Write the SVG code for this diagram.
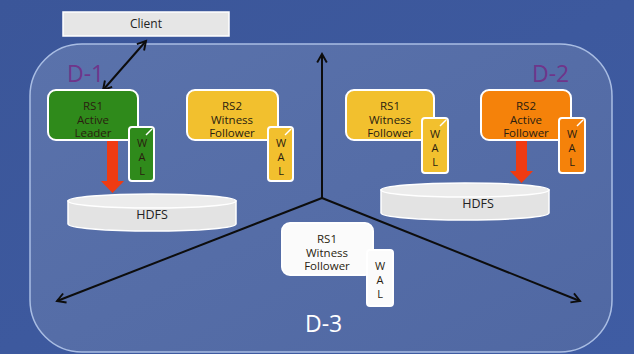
<svg xmlns="http://www.w3.org/2000/svg" width="634" height="354" viewBox="0 0 634 354">
  <defs>
    <linearGradient id="bg" x1="0" y1="0" x2="1" y2="1">
      <stop offset="0" stop-color="#3b5699"/>
      <stop offset="1" stop-color="#3f5ca3"/>
    </linearGradient>
    <linearGradient id="panel" x1="0" y1="0" x2="1" y2="1">
      <stop offset="0" stop-color="#5a72ab"/>
      <stop offset="1" stop-color="#5068a3"/>
    </linearGradient>
    <marker id="ah" viewBox="0 0 10 10" refX="8" refY="5" markerWidth="6" markerHeight="6" orient="auto-start-reverse">
      <path d="M1,1 L8,5 L1,9" fill="none" stroke="#0d0d0d" stroke-width="1.6"/>
    </marker>
    <g id="cyl">
      <path d="M0,8 L0,31 A84,7 0 0 0 168,31 L168,8 Z" class="disk"/>
      <ellipse cx="84" cy="8" rx="84" ry="7" class="disktop"/>
    </g>
  </defs>
  <style>
    text { font-family: "Open Sans", "Liberation Sans", sans-serif; }
    .box { stroke: #ffffff; stroke-width: 2; }
    .lbl { font-size: 11.5px; fill: #2a1d10; text-anchor: middle; }
    .wal { font-size: 11px; fill: #2a1d10; text-anchor: middle; }
    .disk { fill: #e3e3e3; stroke: #ffffff; stroke-width: 1.5; }
    .disktop { fill: #ececec; stroke: #ffffff; stroke-width: 1.5; }
    .dc { font-size: 23px; }
    .axis { stroke: #0d0d0d; stroke-width: 2; fill: none; }
    .green { fill: #2f8a1b; }
    .yellow { fill: #f2c02e; }
    .orange { fill: #f5820a; }
    .white { fill: #fbfbfb; }
    .push { fill: #ef3b12; }
    .shine { stroke: #ffffff; stroke-width: 1.5; fill: none; }
  </style>

  <rect x="0" y="0" width="634" height="354" fill="url(#bg)"/>

  <!-- data-center panel -->
  <rect x="30" y="44" width="582" height="308" rx="52" ry="52" fill="url(#panel)" stroke="#a9bde3" stroke-width="1.5"/>

  <!-- connectors -->
  <g id="connectors">
    <line class="axis" x1="322" y1="198" x2="322" y2="54" marker-end="url(#ah)"/>
    <line class="axis" x1="322" y1="198" x2="57" y2="301" marker-end="url(#ah)"/>
    <line class="axis" x1="322" y1="198" x2="580" y2="301" marker-end="url(#ah)"/>
    <line class="axis" x1="146" y1="41" x2="103" y2="90" marker-start="url(#ah)" marker-end="url(#ah)"/>
    <!-- WAL flush arrows into HDFS -->
    <path class="push" d="M107,140 H118 V181 H124 L112.5,193 L101,181 H107 Z"/>
    <path class="push" d="M516,140 H527 V171 H533 L521.5,183 L510,171 H516 Z"/>
  </g>

  <!-- labels of the data centers -->
  <text class="dc" x="67" y="82" fill="#6f358a">D-1</text>
  <text class="dc" x="532" y="82" fill="#6f358a">D-2</text>
  <text class="dc" x="305" y="332" fill="#ffffff">D-3</text>

  <g id="client">
    <rect x="63" y="12" width="166" height="24" fill="#e6e6e6" stroke="#ffffff" stroke-width="1.5"/>
    <text x="146" y="28" font-size="12px" fill="#222" text-anchor="middle">Client</text>
  </g>

  <g id="hdfs-d1">
    <use href="#cyl" x="68" y="193"/>
    <text x="152" y="219" font-size="12.5px" fill="#222" text-anchor="middle">HDFS</text>
  </g>

  <g id="hdfs-d2">
    <use href="#cyl" x="381" y="182"/>
    <text x="478" y="208" font-size="12.5px" fill="#222" text-anchor="middle">HDFS</text>
  </g>

  <g id="rs1-d1">
    <rect class="box green" x="48" y="90" width="90" height="50" rx="8"/>
    <text class="lbl" x="93" y="110">RS1</text>
    <text class="lbl" x="93" y="123.5">Active</text>
    <text class="lbl" x="93" y="137">Leader</text>
    <rect class="box green" x="129" y="127" width="25" height="54" rx="3"/>
    <path class="shine" d="M146,135 L152,129"/>
    <text class="wal" x="142" y="147">W</text>
    <text class="wal" x="142" y="161">A</text>
    <text class="wal" x="142" y="175">L</text>
  </g>

  <g id="rs2-d1">
    <rect class="box yellow" x="187" y="90" width="91" height="50" rx="8"/>
    <text class="lbl" x="232" y="110">RS2</text>
    <text class="lbl" x="232" y="123.5">Witness</text>
    <text class="lbl" x="232" y="137">Follower</text>
    <rect class="box yellow" x="268" y="127" width="25" height="54" rx="3"/>
    <path class="shine" d="M285,135 L291,129"/>
    <text class="wal" x="281" y="147">W</text>
    <text class="wal" x="281" y="161">A</text>
    <text class="wal" x="281" y="175">L</text>
  </g>

  <g id="rs1-d2">
    <rect class="box yellow" x="346" y="90" width="88" height="50" rx="8"/>
    <text class="lbl" x="390" y="110">RS1</text>
    <text class="lbl" x="390" y="123.5">Witness</text>
    <text class="lbl" x="390" y="137">Follower</text>
    <rect class="box yellow" x="422" y="118" width="26" height="55" rx="3"/>
    <path class="shine" d="M440,126 L446,120"/>
    <text class="wal" x="435" y="138">W</text>
    <text class="wal" x="435" y="152">A</text>
    <text class="wal" x="435" y="166">L</text>
  </g>

  <g id="rs2-d2">
    <rect class="box orange" x="481" y="90" width="90" height="50" rx="8"/>
    <text class="lbl" x="526" y="110">RS2</text>
    <text class="lbl" x="526" y="123.5">Active</text>
    <text class="lbl" x="526" y="137">Follower</text>
    <rect class="box orange" x="559" y="118" width="26" height="55" rx="3"/>
    <path class="shine" d="M577,126 L583,120"/>
    <text class="wal" x="572" y="138">W</text>
    <text class="wal" x="572" y="152">A</text>
    <text class="wal" x="572" y="166">L</text>
  </g>

  <g id="rs1-d3">
    <rect class="box white" x="282" y="223" width="91" height="52" rx="8"/>
    <text class="lbl" x="327" y="243">RS1</text>
    <text class="lbl" x="327" y="256.5">Witness</text>
    <text class="lbl" x="327" y="270">Follower</text>
    <rect class="box white" x="367" y="250" width="26" height="56" rx="3"/>
    <text class="wal" x="380" y="270">W</text>
    <text class="wal" x="380" y="284">A</text>
    <text class="wal" x="380" y="298">L</text>
  </g>
</svg>
